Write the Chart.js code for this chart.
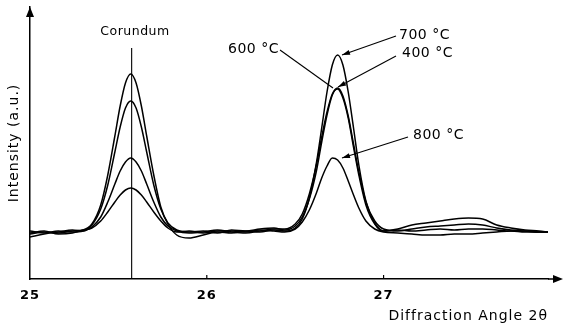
<!DOCTYPE html>
<html>
<head>
<meta charset="utf-8">
<script src="https://cdn.jsdelivr.net/npm/chart.js@4.4.1/dist/chart.umd.min.js"></script>
<style>
  body { margin: 0; background: #fff; }
  #wrap { position: relative; width: 564px; height: 328px; }
</style>
</head>
<body>
<div id="wrap"><canvas id="xrd"></canvas></div>
<script>
// 2-theta positions (deg)
const angles = [25.00, 25.08, 25.16, 25.24, 25.30, 25.35, 25.40, 25.44, 25.48, 25.51,
  25.54, 25.57, 25.60, 25.63, 25.66, 25.70, 25.74, 25.78, 25.83, 25.90,
  25.98, 26.06, 26.14, 26.22, 26.30, 26.38, 26.44, 26.50, 26.54, 26.58,
  26.62, 26.65, 26.68, 26.71, 26.74, 26.77, 26.80, 26.83, 26.86, 26.90,
  26.95, 27.00, 27.08, 27.16, 27.24, 27.32, 27.40, 27.48, 27.56, 27.64,
  27.72, 27.80, 27.88, 27.93]

// intensities (a.u.), one list per calcination temperature
const int700 = [45, 47, 46, 48, 49, 55, 74, 104, 143, 173,
  196, 205, 196, 173, 143, 104, 72, 55, 44, 41,
  44, 47, 46, 48, 47, 49, 48, 51, 60, 81,
  116, 151, 187, 214, 224, 214, 187, 151, 114, 78,
  56, 48, 50, 54, 56, 58, 60, 61, 60, 54,
  51, 49, 48, 47]
const int400 = [48, 46, 48, 47, 48, 54, 70, 94, 127, 152,
  171, 178, 171, 152, 127, 94, 70, 56, 49, 47,
  48, 46, 49, 48, 50, 51, 49, 53, 62, 80,
  108, 137, 164, 184, 191, 183, 163, 135, 107, 77,
  58, 50, 48, 50, 52, 53, 54, 55, 54, 51,
  49, 48, 47, 47]
const int600 = [42, 45, 47, 49, 48, 52, 62, 77, 95, 108,
  117, 121, 117, 108, 95, 77, 62, 53, 48, 46,
  47, 49, 47, 46, 48, 50, 50, 55, 65, 85,
  114, 142, 167, 185, 190, 181, 161, 132, 104, 74,
  55, 48, 49, 48, 49, 50, 49, 50, 50, 49,
  48, 48, 47, 47]
const int800 = [46, 48, 45, 46, 49, 51, 58, 67, 77, 84,
  89, 91, 89, 84, 77, 67, 58, 51, 47, 48,
  46, 48, 48, 47, 49, 48, 47, 50, 57, 69,
  86, 101, 113, 121, 119, 111, 98, 84, 71, 58,
  50, 47, 46, 45, 44, 44, 45, 45, 46, 47,
  48, 47, 47, 47]

const corundumAngle = 25.575
const corundumTop = 231
const tickLabels = ['25', '26', '27']

const series = [int700, int400, int600, int800]
const toPoints = (vals) => vals.map((v, i) => ({ x: angles[i], y: v }))

const ink = '#000'
const txtFont = '"DejaVu Sans", sans-serif'

const datasets = series.map(s => ({
  data: toPoints(s),
  borderColor: ink,
  borderWidth: 1.5,
  pointRadius: 0,
  cubicInterpolationMode: 'monotone',
  fill: false
}))
datasets.push({
  data: [{ x: corundumAngle, y: 0 }, { x: corundumAngle, y: corundumTop }],
  borderColor: ink,
  borderWidth: 1.1,
  pointRadius: 0
})

function arrowHead(ctx, x0, y0, x1, y1, len, half) {
  const a = Math.atan2(y1 - y0, x1 - x0)
  ctx.beginPath()
  ctx.moveTo(x1, y1)
  ctx.lineTo(x1 - len * Math.cos(a) + half * Math.sin(a), y1 - len * Math.sin(a) - half * Math.cos(a))
  ctx.lineTo(x1 - len * Math.cos(a) - half * Math.sin(a), y1 - len * Math.sin(a) + half * Math.cos(a))
  ctx.closePath()
  ctx.fill()
}

function leader(ctx, x0, y0, x1, y1, head) {
  ctx.beginPath()
  ctx.moveTo(x0, y0)
  ctx.lineTo(x1, y1)
  ctx.stroke()
  if (head) arrowHead(ctx, x0, y0, x1, y1, 8, 2.5)
}

const decorations = {
  id: 'decorations',
  beforeDraw(chart) {
    // the lettering on the original plot is widely spaced
    chart.ctx.letterSpacing = '1px'
  },
  afterDraw(chart) {
    const { ctx, chartArea: area, scales } = chart
    const xs = scales.x
    ctx.save()
    ctx.strokeStyle = ink
    ctx.fillStyle = ink
    ctx.lineWidth = 1.5

    // axis arrows
    ctx.beginPath()
    ctx.moveTo(area.right, area.bottom)
    ctx.lineTo(556, area.bottom)
    ctx.stroke()
    arrowHead(ctx, 500, area.bottom, 563, area.bottom, 10, 4)
    arrowHead(ctx, area.left, 100, area.left, 7, 10, 4)

    // small tick marks pointing up
    ctx.lineWidth = 1.2
    ;[26, 27].forEach(v => {
      const px = xs.getPixelForValue(v)
      ctx.beginPath()
      ctx.moveTo(px, area.bottom)
      ctx.lineTo(px, area.bottom - 4)
      ctx.stroke()
    })

    // labels
    ctx.textBaseline = 'middle'
    ctx.letterSpacing = '0.5px'
    ctx.font = '12.5px ' + txtFont
    ctx.textAlign = 'center'
    ctx.fillText('Corundum', 135, 32)

    ctx.letterSpacing = '0.5px'
    ctx.font = '14px ' + txtFont
    ctx.textAlign = 'left'
    ctx.fillText('600 °C', 228, 49)
    ctx.fillText('700 °C', 399, 35)
    ctx.fillText('400 °C', 402, 53)
    ctx.fillText('800 °C', 413, 135)

    ctx.lineWidth = 1.1
    leader(ctx, 396, 36, 342, 55, true)
    leader(ctx, 396, 56, 338, 87, true)
    leader(ctx, 280, 50, 333, 88, false)
    leader(ctx, 408, 137, 342, 158, true)
    ctx.restore()
  }
}

const config = {
  type: 'line',
  data: { datasets: datasets },
  options: {
    responsive: true,
    maintainAspectRatio: false,
    animation: false,
    layout: { padding: { top: 7, right: 16, left: 0, bottom: 0 } },
    scales: {
      x: {
        type: 'linear',
        min: 25,
        max: 27.93,
        afterFit(scale) { scale.height = 49 },
        grid: { display: false, drawTicks: false },
        border: { display: true, color: ink, width: 1.5 },
        ticks: {
          stepSize: 1,
          includeBounds: false,
          padding: 9,
          color: ink,
          font: { family: txtFont, size: 13, weight: 'bold' },
          callback: (v) => tickLabels.includes(String(v)) ? String(v) : ''
        },
        title: {
          display: true,
          text: 'Diffraction Angle 2θ',
          align: 'end',
          color: ink,
          font: { family: txtFont, size: 14 },
          padding: { top: 0, bottom: 3 }
        }
      },
      y: {
        min: 0,
        max: 272,
        afterFit(scale) { scale.width = 30 },
        grid: { display: false, drawTicks: false },
        border: { display: true, color: ink, width: 1.5 },
        ticks: { display: false },
        title: {
          display: true,
          text: 'Intensity (a.u.)',
          color: ink,
          font: { family: txtFont, size: 14 },
          padding: { top: 6, bottom: 0 }
        }
      }
    },
    plugins: {
      legend: { display: false },
      tooltip: { enabled: false }
    }
  },
  plugins: [decorations]
}

var xrdChart = new Chart(
  document.getElementById('xrd'),
  config
)
</script>
</body>
</html>
